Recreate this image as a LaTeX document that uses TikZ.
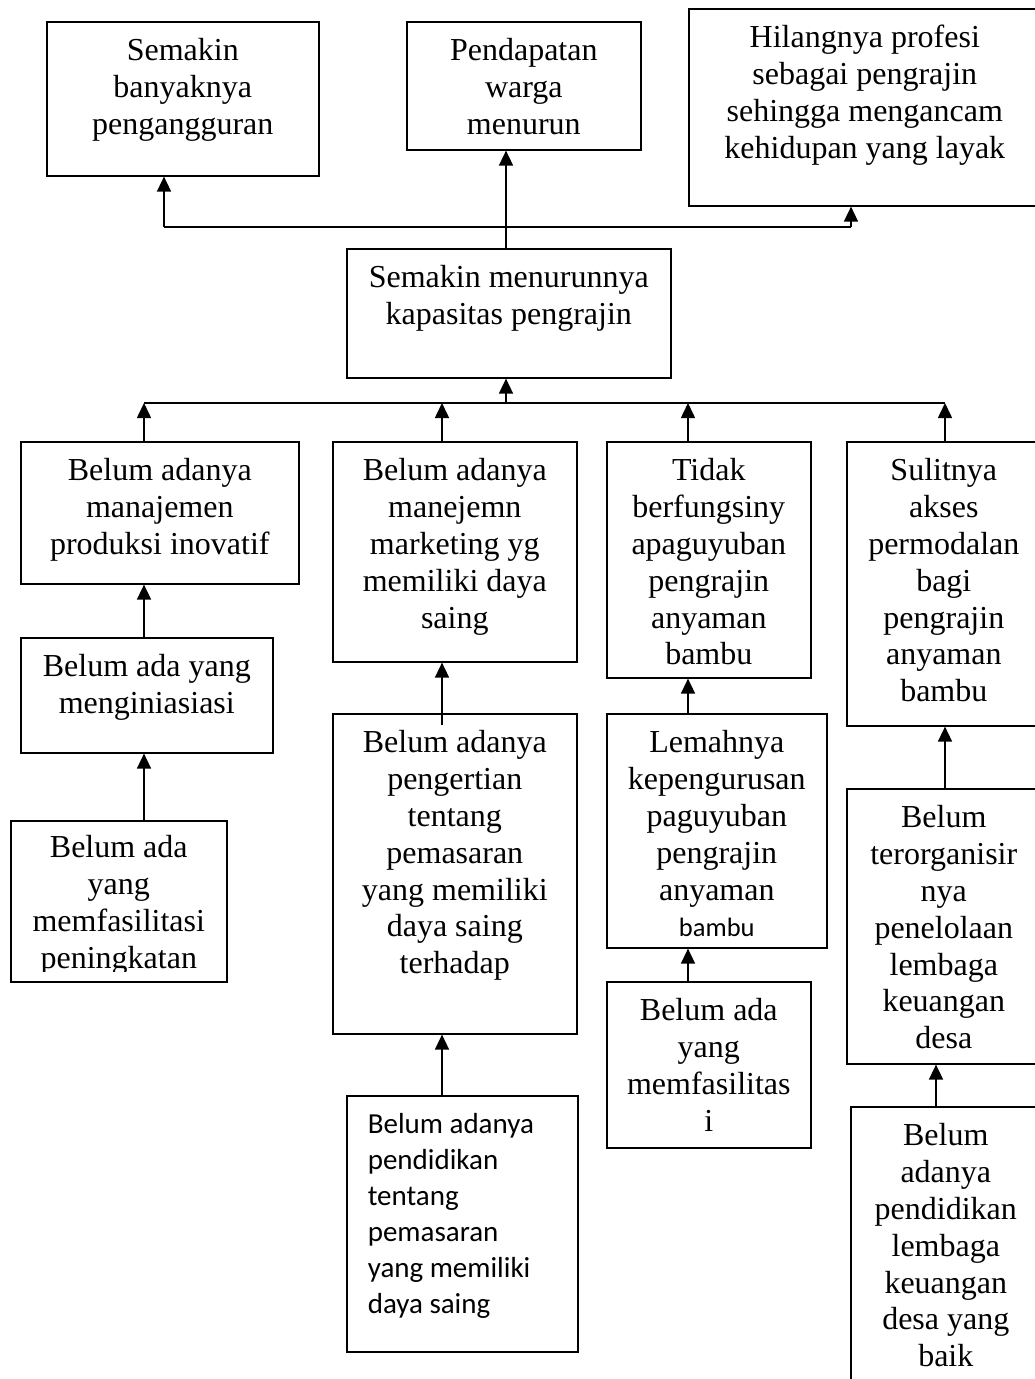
\documentclass[tikz,border=0pt]{standalone}
\usepackage{fontspec}
\setmainfont{Liberation Serif}
\newfontfamily\calibri{Carlito}
\usetikzlibrary{arrows.meta,calc}
\tikzset{box/.style={draw,inner sep=0pt,anchor=north west,font=\fontsize{32}{36.8}\selectfont},
  link/.style={-{Triangle[length=15pt,width=14pt]}}}
\newcommand{\boxtext}[3]{\parbox[t][#2][t]{#1}{\centering\rule{0pt}{39pt}#3}}
\newcommand{\boxtextleft}[3]{\parbox[t][#2][t]{#1}{\raggedright\leftskip=21pt\calibri\fontsize{29}{36}\selectfont\rule{0pt}{38pt}#3}}

\begin{document}
\begin{tikzpicture}[x=1pt,y=-1pt,line width=1.6pt]
    \useasboundingbox (0,0) rectangle (1034,1379);

    % akibat
    \node[box] (B1) at (46,21) {\boxtext{272pt}{154pt}{Semakin\\banyaknya\\pengangguran}};
    \node[box] (B2) at (406,21) {\boxtext{234pt}{128pt}{Pendapatan\\warga\\menurun}};
    \node[box] (B3) at (688,8) {\boxtext{352pt}{197pt}{Hilangnya profesi\\sebagai pengrajin\\sehingga mengancam\\kehidupan yang layak}};

    % masalah inti
    \node[box] (CORE) at (346,248) {\boxtext{324pt}{129pt}{Semakin menurunnya\\kapasitas pengrajin}};

    % sebab
    \node[box] (C1a) at (20,441) {\boxtext{278pt}{142pt}{Belum adanya\\manajemen\\produksi inovatif}};
    \node[box] (C1b) at (20,637) {\boxtext{252pt}{115pt}{Belum ada yang\\menginiasiasi}};
    \node[box] (C1c) at (10,820) {\boxtext{216pt}{161pt}{}};
    \begin{scope}
      \clip (10,820) rectangle (226,971);
      \node[box,draw=none] (C1ctext) at (10,818) {\boxtext{216pt}{161pt}{Belum ada\\yang\\memfasilitasi\\peningkatan}};
    \end{scope}

    \node[box] (C2a) at (332,441) {\boxtext{244pt}{220pt}{Belum adanya\\manejemn\\marketing yg\\memiliki daya\\saing}};
    \node[box] (C2b) at (332,713) {\boxtext{244pt}{320pt}{Belum adanya\\pengertian\\tentang\\pemasaran\\yang memiliki\\daya saing\\terhadap}};
    \node[box] (C2c) at (346,1095) {\boxtextleft{231pt}{256pt}{Belum adanya\\pendidikan\\tentang\\pemasaran\\yang memiliki\\daya saing}};

    \node[box] (C3a) at (606,441) {\boxtext{204pt}{236pt}{Tidak\\berfungsiny\\apaguyuban\\pengrajin\\anyaman\\bambu}};
    \node[box] (C3b) at (606,713) {\boxtext{220pt}{234pt}{Lemahnya\\kepengurusan\\paguyuban\\pengrajin\\anyaman\\{\calibri\fontsize{26.5}{36.8}\selectfont bambu}}};
    \node[box] (C3c) at (606,981) {\boxtext{204pt}{166pt}{Belum ada\\yang\\memfasilitas\\i}};

    \node[box] (C4a) at (846,441) {\boxtext{194pt}{284pt}{Sulitnya\\akses\\permodalan\\bagi\\pengrajin\\anyaman\\bambu}};
    \node[box] (C4b) at (846,788) {\boxtext{194pt}{275pt}{Belum\\terorganisir\\nya\\penelolaan\\lembaga\\keuangan\\desa}};
    \node[box] (C4c) at (850,1106) {\boxtext{190pt}{300pt}{Belum\\adanya\\pendidikan\\lembaga\\keuangan\\desa yang\\baik}};

    % sumbu panah
    \coordinate (axT1) at (164,227);
    \coordinate (axT3) at (851,227);
    \coordinate (axM) at (506,403);
    \coordinate (ax1) at (144,403);
    \coordinate (ax2) at (442,403);
    \coordinate (ax3) at (688,403);
    \coordinate (ax4) at (945,403);
    \coordinate (ax4c) at (936,0);

    \draw[link] (CORE.north -| axM) -- (B2.south -| axM);
    \draw (axT1) -- (axT3);
    \draw[link] (axT1) -- (B1.south -| axT1);
    \draw[link] (axT3) -- (B3.south -| axT3);

    \draw[link] (axM) -- (CORE.south -| axM);
    \draw (ax1) -- (ax4);
    \foreach \c/\a in {C1a/ax1,C2a/ax2,C3a/ax3,C4a/ax4}
      \draw[link] (\c.north -| \a) -- (\a);

    \draw[link] (C1b.north -| ax1) -- (C1a.south -| ax1);
    \draw[link] (C1c.north -| ax1) -- (C1b.south -| ax1);
    \draw[link] ($(C2b.north -| ax2)+(0,12)$) -- (C2a.south -| ax2);
    \draw[link] (C2c.north -| ax2) -- (C2b.south -| ax2);
    \draw[link] (C3b.north -| ax3) -- (C3a.south -| ax3);
    \draw[link] (C3c.north -| ax3) -- (C3b.south -| ax3);
    \draw[link] (C4b.north -| ax4) -- (C4a.south -| ax4);
    \draw[link] (C4c.north -| ax4c) -- (C4b.south -| ax4c);
\end{tikzpicture}
\end{document}
